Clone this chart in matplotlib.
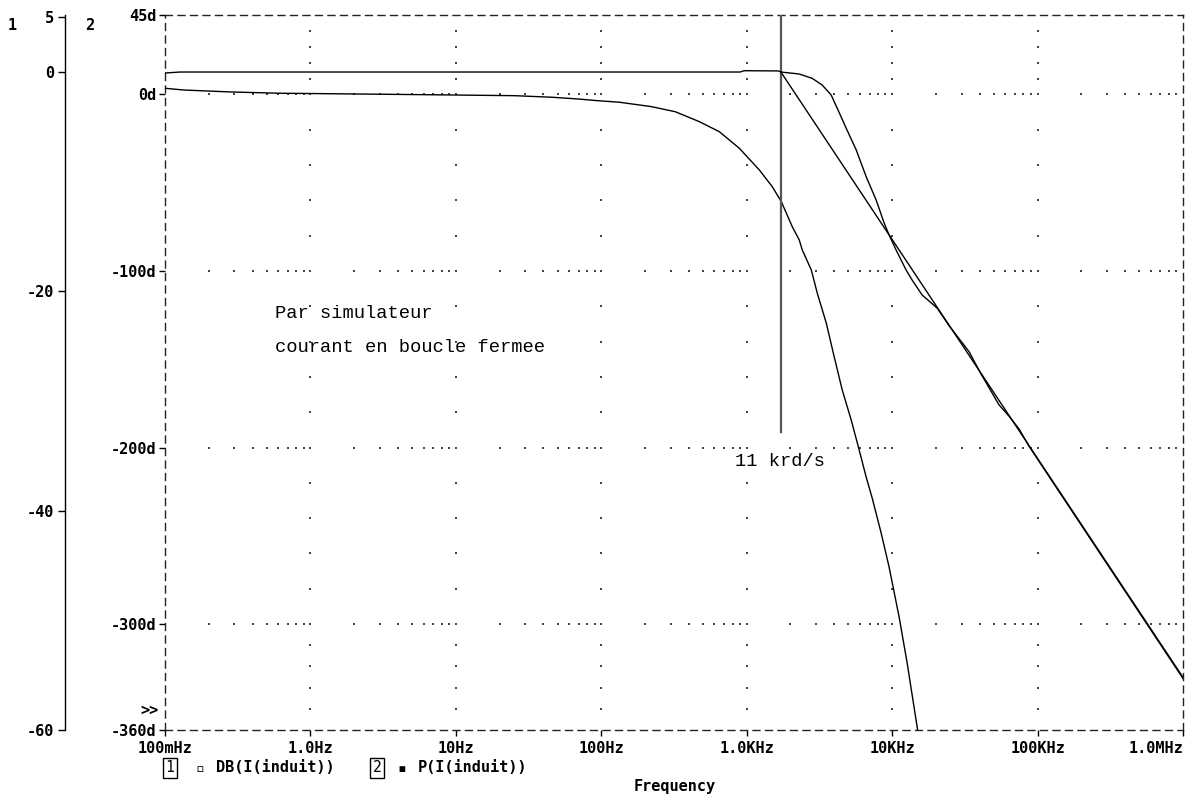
import numpy as np
import matplotlib
matplotlib.use("Agg")
import matplotlib.pyplot as plt

# ---------------- data ----------------
mag_freq = [0.1, 0.127, 900, 960, 1650, 1718, 2296, 2823, 3306, 3811, 4191,
            4833, 5661, 6627, 7762, 8810, 9530, 10650, 12470, 13710, 16070,
            20370, 24600, 33800, 40800, 54300, 63600, 74500, 87300, 264000, 1e6]
mag_db = [-0.09, 0.0, 0.0, 0.12, 0.1, 0.0, -0.18, -0.58, -1.19, -2.1, -3.3,
          -5.13, -7.1, -9.54, -11.67, -13.77, -14.86, -16.23, -18.05, -18.96, -20.33,
          -21.52, -23.12, -25.5, -27.52, -30.35, -31.38, -32.54, -34.12, -43.74, -55.3]

ph_freq = [0.1, 0.135, 0.284, 0.607, 5.6, 25.4, 46, 70, 93, 133, 221, 323, 472,
           648, 890, 1222, 1500, 1729, 2057, 2297, 2410, 2780, 3055, 3524, 3998,
           4538, 5230, 5934, 6627, 7290, 8400, 9530, 11170, 12680, 14860, 15800]
ph_deg = [3.5, 2.5, 1.4, 0.7, -0.1, -0.7, -1.6, -2.6, -3.5, -4.4, -6.9, -9.8, -15.4,
          -21.1, -30.5, -42.8, -52.3, -60.7, -74.9, -82.4, -88.1, -99.4, -112.5, -129.5, -148.7,
          -167.4, -184.4, -201.4, -216.7, -228.6, -248.4, -267.7, -296.0, -322.0, -358.3, -375.0]

asym_freq = [1718, 1e6]
asym_db = [0.0, -55.2]

marker_freq = 1718
marker_db = [5.2, -32.8]

x_ticks = [0.1, 1, 10, 100, 1e3, 1e4, 1e5, 1e6]
x_labels = ["100mHz", "1.0Hz", "10Hz", "100Hz", "1.0KHz", "10KHz", "100KHz", "1.0MHz"]
ph_ticks = [45, 0, -100, -200, -300, -360]
ph_labels = ["45d", "0d", "-100d", "-200d", "-300d", "-360d"]
db_ticks = [5, 0, -20, -40, -60]
db_labels = ["5", "0", "-20", "-40", "-60"]

# ---------------- figure ----------------
W, H = 1187, 796
fig = plt.figure(figsize=(W / 100, H / 100), dpi=100)
fig.patch.set_facecolor("white")

L, R, T, B = 165, 1183, 15, 730
ax = fig.add_axes([L / W, 1 - B / H, (R - L) / W, (B - T) / H])
ax.set_xscale("log")
ax.set_xlim(0.1, 1e6)
ax.set_ylim(-360, 45)

mono_b = dict(family="DejaVu Sans Mono", weight="bold", size=11)

# dB axis (twin, spine moved to the far left)
axdb = ax.twinx()
axdb.set_ylim(-60, 5.2)
axdb.yaxis.set_ticks_position("left")
axdb.yaxis.set_label_position("left")
axdb.spines["left"].set_position(("axes", -(L - 65) / (R - L)))
for k in ["right", "top", "bottom"]:
    axdb.spines[k].set_visible(False)
axdb.spines["left"].set_linewidth(1.0)
axdb.set_yticks(db_ticks)
axdb.set_yticklabels(db_labels, fontdict=mono_b)
axdb.tick_params(axis="y", direction="out", length=5, width=1, pad=3)
axdb.patch.set_visible(False)

# dotted grid
dec = [1, 10, 100, 1e3, 1e4, 1e5]
maj = [45, 0, -100, -200, -300, -360]
sub_y = []
for a, b in zip(maj[:-1], maj[1:]):
    for k in range(6):
        sub_y.append(a + (b - a) * k / 5)
gx, gy = [], []
for d in dec:
    for yv in sub_y:
        if -360 < yv < 45:
            gx.append(d); gy.append(yv)
for yv in [0, -100, -200, -300]:
    for d in [0.1, 1, 10, 100, 1e3, 1e4, 1e5]:
        for m in range(2, 11):
            xv = d * m
            if xv < 1e6:
                gx.append(xv); gy.append(yv)
ax.scatter(gx, gy, s=0.8, c="#444444", marker="s", linewidths=0, zorder=1)

# phase curve
ax.plot(ph_freq, ph_deg, color="black", lw=1.0, zorder=3)

# frame dashed
for s in ax.spines.values():
    s.set_linestyle((0, (5, 4)))
    s.set_linewidth(1.0)
    s.set_color("#222222")

ax.set_xticks(x_ticks)
ax.xaxis.set_minor_locator(matplotlib.ticker.NullLocator())
ax.set_xticklabels(x_labels, fontdict=mono_b)
ax.get_xticklabels()[-1].set_horizontalalignment("right")
ax.tick_params(axis="x", direction="out", length=4, width=1, pad=4)
ax.set_yticks(ph_ticks)
ax.set_yticklabels(ph_labels, fontdict=mono_b)
ax.tick_params(axis="y", direction="out", length=4, width=1, pad=2)

# magnitude, asymptote and marker
axdb.plot(mag_freq, mag_db, color="black", lw=1.0, zorder=3)
axdb.plot(asym_freq, asym_db, color="black", lw=1.0, zorder=3)
axdb.plot([marker_freq, marker_freq], marker_db, color="#555555", lw=1.6, zorder=2)

# annotations
ann = dict(family="Liberation Mono", size=13.5, color="black")
fig.text(275 / W, 1 - 313 / H, "Par simulateur", ha="left", va="center", **ann)
fig.text(275 / W, 1 - 348 / H, "courant en boucle fermee", ha="left", va="center", **ann)
fig.text(735 / W, 1 - 461 / H, "11 krd/s", ha="left", va="center", **ann)

fig.text(12 / W, 1 - 25 / H, "1", ha="center", va="center", **mono_b)
fig.text(90 / W, 1 - 25 / H, "2", ha="center", va="center", **mono_b)
fig.text(150 / W, 1 - 710 / H, ">>", ha="center", va="center", **mono_b)

# legend
boxp = dict(boxstyle="square,pad=0.2", fc="none", ec="black", lw=1.0)
fig.text(170 / W, 1 - 768 / H, "1", ha="center", va="center", bbox=boxp,
         family="DejaVu Sans Mono", size=10.5)
fig.text(200 / W, 1 - 768 / H, "\u25ab", ha="center", va="center",
         family=["DejaVu Sans Mono", "DejaVu Sans"], size=10.5)
fig.text(216 / W, 1 - 768 / H, "DB(I(induit))", ha="left", va="center", **mono_b)
fig.text(377 / W, 1 - 768 / H, "2", ha="center", va="center", bbox=boxp,
         family="DejaVu Sans Mono", size=10.5)
fig.text(402 / W, 1 - 768 / H, "\u25aa", ha="center", va="center",
         family=["DejaVu Sans Mono", "DejaVu Sans"], size=10.5)
fig.text(418 / W, 1 - 768 / H, "P(I(induit))", ha="left", va="center", **mono_b)
fig.text(675 / W, 1 - 786 / H, "Frequency", ha="center", va="center", **mono_b)

fig.savefig("out.png", dpi=100, facecolor="white")
